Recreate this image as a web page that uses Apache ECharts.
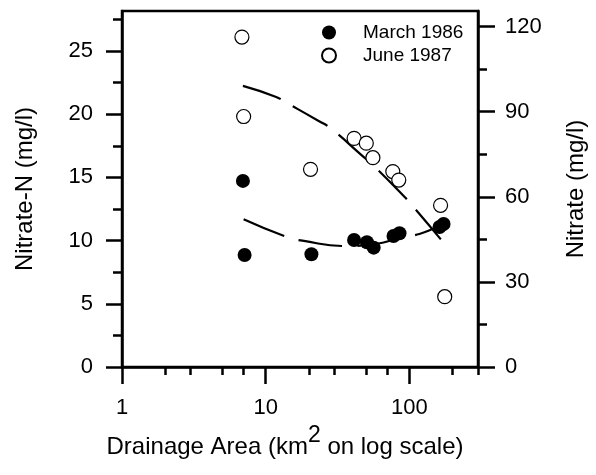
<!DOCTYPE html>
<html>
<head>
<meta charset="utf-8">
<script src="https://cdn.jsdelivr.net/npm/echarts@6/dist/echarts.min.js"></script>
<style>
html,body{margin:0;padding:0;background:#fff;}
#chart{width:596px;height:475px;}
</style>
</head>
<body>
<div id="chart"></div>
<script>
// ---- data ----
var marchX = [6.94, 7.13, 20.8, 41.2, 50.6, 56.4, 77.5, 85.3, 162, 172.8];
var marchN = [14.72, 8.86, 8.92, 10.05, 9.87, 9.44, 10.36, 10.58, 11.08, 11.31];
var juneX = [6.83, 7.02, 20.5, 41.2, 50.1, 55.7, 76.6, 84.3, 164.7, 176];
var juneNitrate = [116.3, 88.3, 69.7, 80.6, 78.9, 73.8, 68.9, 65.9, 57.0, 24.8];
var juneFitX = [6.94, 11.7, 13.9, 23.2, 28.2, 46.2, 57.3, 92.3, 107.1, 165.4];
var juneFitY = [99.1, 95.3, 93.2, 86.8, 84.2, 74.8, 70.6, 60.0, 56.3, 45.0];
var marchFitX = [7.02, 14.2, 18.0, 35.8, 62.2, 76.6, 117.3, 149, 173];
var marchFitY = [11.69, 10.26, 9.99, 9.57, 9.79, 10.05, 10.52, 10.97, 11.3];
var xMajorTicks = [1, 10, 100];
var xMinorTicks = [2, 3, 5, 7, 20, 30, 50, 70, 200, 300];
var leftMajorTicks = [0, 5, 10, 15, 20, 25];
var leftMinorTicks = [2.5, 7.5, 12.5, 17.5, 22.5, 27.5];
var rightMajorTicks = [0, 30, 60, 90, 120];
var rightMinorTicks = [15, 45, 75, 105];
var seriesNames = ['March 1986', 'June 1987'];

function pairs(xs, ys) { return xs.map(function (x, i) { return [x, ys[i]]; }); }

var FONT = 'Liberation Sans';
var lineW = 2.5;
var chart = echarts.init(document.getElementById('chart'), null, {renderer: 'canvas'});
var baseLabel = {color: '#000', fontFamily: FONT, fontSize: 22};

var option = {
  animation: false,
  backgroundColor: '#fff',
  textStyle: {fontFamily: FONT, color: '#000'},
  grid: {left: 122, right: 116, top: 11, bottom: 108, show: true, borderColor: '#000', borderWidth: lineW, backgroundColor: 'transparent', containLabel: false},
  legend: {
    orient: 'vertical', left: 316, top: 18, itemWidth: 58, itemHeight: 14, itemGap: 4,
    textStyle: {fontFamily: FONT, fontSize: 19, color: '#000'},
    data: seriesNames
  },
  xAxis: [
    {
      type: 'log', logBase: 10, min: 1, max: 300, position: 'bottom',
      name: '{a|Drainage Area (km}{s|2}{a| on log scale)}',
      nameLocation: 'middle', nameGap: 54,
      nameTextStyle: {padding: [0, 30, 0, 0], rich: {
        a: {fontFamily: FONT, fontSize: 24, color: '#000'},
        s: {fontFamily: FONT, fontSize: 23, color: '#000', padding: [0, 0, 24, 0]}
      }},
      axisLine: {onZero: false, lineStyle: {color: '#000', width: lineW}},
      axisTick: {show: true, customValues: xMajorTicks, length: 17, lineStyle: {color: '#000', width: lineW}},
      axisLabel: Object.assign({customValues: xMajorTicks, margin: 30}, baseLabel),
      splitLine: {show: false}
    },
    {
      type: 'log', logBase: 10, min: 1, max: 300, position: 'bottom',
      axisLine: {show: false, onZero: false},
      axisTick: {show: true, customValues: xMinorTicks, length: 8, lineStyle: {color: '#000', width: lineW}},
      axisLabel: {show: false},
      splitLine: {show: false}
    }
  ],
  yAxis: [
    {
      type: 'value', min: 0, max: 28.16, position: 'left',
      name: 'Nitrate-N (mg/l)', nameLocation: 'middle', nameGap: 85, nameRotate: 90,
      nameTextStyle: {fontFamily: FONT, fontSize: 24, color: '#000'},
      axisLine: {show: true, onZero: false, lineStyle: {color: '#000', width: lineW}},
      axisTick: {show: true, customValues: leftMajorTicks, length: 16, lineStyle: {color: '#000', width: lineW}},
      axisLabel: Object.assign({customValues: leftMajorTicks, margin: 29}, baseLabel),
      splitLine: {show: false}
    },
    {
      type: 'value', min: 0, max: 125.5, position: 'right',
      name: 'Nitrate (mg/l)', nameLocation: 'middle', nameGap: 86, nameRotate: 90,
      nameTextStyle: {fontFamily: FONT, fontSize: 24, color: '#000'},
      axisLine: {show: true, onZero: false, lineStyle: {color: '#000', width: lineW}},
      axisTick: {show: true, customValues: rightMajorTicks, length: 17, lineStyle: {color: '#000', width: lineW}},
      axisLabel: Object.assign({customValues: rightMajorTicks, margin: 27}, baseLabel),
      splitLine: {show: false}
    },
    {
      type: 'value', min: 0, max: 28.16, position: 'left',
      axisLine: {show: false, onZero: false},
      axisTick: {show: true, customValues: leftMinorTicks, length: 9, lineStyle: {color: '#000', width: lineW}},
      axisLabel: {show: false}, splitLine: {show: false}
    },
    {
      type: 'value', min: 0, max: 125.5, position: 'right',
      axisLine: {show: false, onZero: false},
      axisTick: {show: true, customValues: rightMinorTicks, length: 9, lineStyle: {color: '#000', width: lineW}},
      axisLabel: {show: false}, splitLine: {show: false}
    }
  ],
  series: [
    {
      name: 'June fit', type: 'line', xAxisIndex: 0, yAxisIndex: 1, data: pairs(juneFitX, juneFitY),
      showSymbol: false, symbol: 'none', smooth: true, z: 1,
      lineStyle: {color: '#000', width: 2.2, type: [40, 14]}
    },
    {
      name: 'March fit', type: 'line', xAxisIndex: 0, yAxisIndex: 0, data: pairs(marchFitX, marchFitY),
      showSymbol: false, symbol: 'none', smooth: true, z: 1,
      lineStyle: {color: '#000', width: 2.2, type: [44, 15]}
    },
    {
      name: seriesNames[0], type: 'scatter', xAxisIndex: 0, yAxisIndex: 0, data: pairs(marchX, marchN),
      symbol: 'circle', symbolSize: 14, z: 3,
      itemStyle: {color: '#000', borderColor: '#000', borderWidth: 0, opacity: 1}
    },
    {
      name: seriesNames[1], type: 'scatter', xAxisIndex: 0, yAxisIndex: 1, data: pairs(juneX, juneNitrate),
      symbol: 'circle', symbolSize: 14, z: 2,
      itemStyle: {color: '#fff', borderColor: '#000', borderWidth: 1.2, opacity: 1}
    }
  ]
};
chart.setOption(option);
</script>
</body>
</html>
